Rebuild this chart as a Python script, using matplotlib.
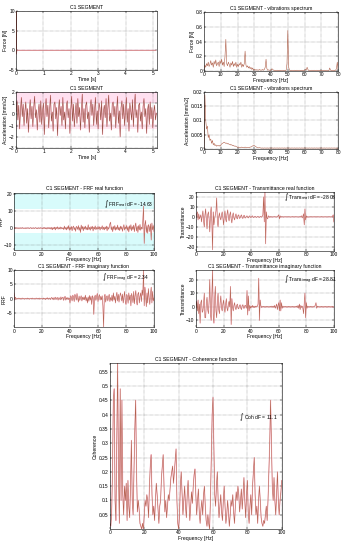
import numpy as np
import matplotlib
matplotlib.use("Agg")
import matplotlib.pyplot as plt
from matplotlib.ticker import FormatStrFormatter, FuncFormatter

plt.rcParams['font.family'] = ['Liberation Sans', 'DejaVu Sans']
plt.rcParams['font.size'] = 3.6

# ---------------- data ----------------
force_t = [0.0, 0.004, 0.012, 0.03, 5.1]
force_v = [0.0, 10.0, -1.0, 0.0, 0.0]

force_spec = [0.02, 0.08, 0.05, 0.10, 0.07, 0.12, 0.06, 0.09, 0.14, 0.08,
              0.11, 0.05, 0.13, 0.09, 0.15, 0.07, 0.10, 0.12, 0.06, 0.14,
              0.10, 0.16, 0.08, 0.12, 0.06, 0.20, 0.43, 0.10, 0.07, 0.12,
              0.09, 0.05, 0.11, 0.08, 0.13, 0.06, 0.10, 0.07, 0.12, 0.05,
              0.09, 0.06, 0.10, 0.08, 0.12, 0.05, 0.09, 0.06, 0.10, 0.27,
              0.08, 0.05, 0.07, 0.04, 0.06, 0.03, 0.05, 0.02, 0.04, 0.01,
              0.02, 0.01, 0.02, 0.01, 0.015, 0.01, 0.02, 0.01, 0.015, 0.01,
              0.02, 0.01, 0.02, 0.05, 0.16, 0.03, 0.01, 0.015, 0.01, 0.01,
              0.01, 0.03, 0.02, 0.01, 0.01, 0.005, 0.01, 0.005, 0.01, 0.005,
              0.01, 0.005, 0.01, 0.005, 0.01, 0.005, 0.01, 0.005, 0.01, 0.10,
              0.55, 0.05, 0.01, 0.005, 0.01, 0.005, 0.01, 0.005, 0.01, 0.005,
              0.01, 0.005, 0.01, 0.005, 0.01, 0.005, 0.01, 0.005, 0.01, 0.005,
              0.01, 0.02, 0.01, 0.05, 0.02, 0.005, 0.01, 0.005, 0.01, 0.005,
              0.01, 0.005, 0.01, 0.005, 0.01, 0.005, 0.01, 0.005, 0.01, 0.005,
              0.01, 0.005, 0.01, 0.005, 0.01, 0.005, 0.01, 0.005, 0.01, 0.005,
              0.04, 0.01, 0.005, 0.01, 0.005, 0.01, 0.005, 0.01, 0.03, 0.12,
              0.02]

accel = [0.2, 1.2, -0.5, 0.8, -1.3, 0.4, 1.5, -0.2, 0.9, -1.0, 0.3, 1.1, -0.8, 0.5, -1.6, 0.2, 1.3, -0.4, 0.7, -1.1,
         0.6, 1.6, -0.3, 0.4, -1.4, 0.1, 0.9, -0.7, 1.2, -0.9, 0.3, 1.0, -1.8, 0.5, 1.4, -0.2, 0.8, -1.2, 0.4, 1.7,
         -0.6, 0.2, -1.5, 0.9, 1.1, -0.4, 0.6, -1.9, 0.3, 1.3, -0.1, 0.7, -1.0, 1.5, -0.5, 0.2, -1.3, 0.8, 1.2, -0.3,
         0.5, -1.7, 0.4, 1.6, -0.6, 0.9, -1.1, 0.1, 1.0, -0.8, 1.4, -0.2, 0.6, -1.4, 0.3, 1.8, -0.7, 0.5, -1.2, 0.8,
         1.1, -0.4, 0.2, -1.6, 0.7, 1.3, -0.1, 0.9, -1.0, 0.4, 1.5, -0.9, 0.3, -1.3, 1.0, 0.6, -0.5, 1.2, -1.8, 0.2,
         0.8, -0.3, 1.4, -1.1, 0.5, 1.7, -0.6, 0.1, -1.4, 0.9, 1.1, -0.2, 0.7, -1.2, 0.4, 1.6, -0.8, 0.3, -2.0, 0.6,
         1.2, -0.4, 0.9, -1.0, 0.2, 1.5, -0.7, 0.5, -1.5, 1.0, 0.3, -0.5, 1.3, -1.1, 0.6, 1.8, -0.3, 0.4, -1.6, 0.8,
         1.0, -0.6, 0.2, -1.3, 0.7, 1.4, -0.2, 0.5, -1.7, 0.3, 0.9, -0.9, 1.1, -0.4, 0.6, -1.2, 0.2, 0.8, -0.5, 0.1]

accel_spec = [0.0, 0.019, 0.010, 0.007, 0.008, 0.004, 0.005, 0.003, 0.0035, 0.002,
              0.003, 0.0015, 0.002, 0.0012, 0.0015, 0.001, 0.0012, 0.0011, 0.0013, 0.001,
              0.0014, 0.0018, 0.002, 0.0022, 0.0024, 0.0022, 0.002, 0.0021, 0.0018, 0.0019,
              0.0016, 0.0017, 0.0014, 0.0015, 0.0012, 0.0013, 0.001, 0.0011, 0.0009, 0.0008,
              0.0006, 0.0007, 0.0005, 0.0006, 0.0005, 0.0007, 0.0005, 0.0006, 0.0005, 0.0007,
              0.0005, 0.0006, 0.0005, 0.0006, 0.0005, 0.0007, 0.0007, 0.0009, 0.0011, 0.0012,
              0.0012, 0.001, 0.0008, 0.0006, 0.0005, 0.0004, 0.0005, 0.0004, 0.0004, 0.0003,
              0.0004, 0.0003, 0.0004, 0.0003, 0.0004, 0.0003, 0.0004, 0.0003, 0.0004, 0.0003,
              0.0004, 0.0003, 0.0004, 0.0003, 0.0004, 0.0003, 0.0004, 0.0003, 0.0004, 0.0003,
              0.0004, 0.0003, 0.0004, 0.0003, 0.0004, 0.0003, 0.0004, 0.0003, 0.0004, 0.0003,
              0.0004, 0.0003, 0.0004, 0.0003, 0.0004, 0.0003, 0.0004, 0.0003, 0.0004, 0.0003,
              0.0004, 0.0003, 0.0004, 0.0003, 0.0004, 0.0003, 0.0004, 0.0003, 0.0004, 0.0003,
              0.0004, 0.0003, 0.0004, 0.0003, 0.0004, 0.0003, 0.0004, 0.0003, 0.0004, 0.0003,
              0.0004, 0.0003, 0.0004, 0.0003, 0.0004, 0.0003, 0.0004, 0.0003, 0.0004, 0.0003,
              0.0004, 0.0003, 0.0004, 0.0003, 0.0004, 0.0003, 0.0004, 0.0003, 0.0004, 0.0003,
              0.0004, 0.0003, 0.0004, 0.0003, 0.0004, 0.0003, 0.0004, 0.0003, 0.0004, 0.0003,
              0.0003]

frf_real = [0.5, -0.3, 0.2, -0.2, 0.3, -0.1, 0.2, -0.3, 0.1, 0.2,
            -0.2, 0.1, 0.3, -0.2, 0.1, -0.1, 0.2, -0.3, 0.1, 0.2,
            -0.1, 0.2, -0.2, 0.1, 0.3, -0.2, 0.1, -0.1, 0.2, -0.2,
            0.1, 0.3, -0.2, 0.1, -0.3, 0.2, 0.1, -0.2, 0.3, -0.1,
            0.2, -0.4, 0.3, -0.2, 0.4, -0.3, 0.2, -0.5, 0.3, -0.2,
            0.4, -0.3, 0.2, -0.6, 0.5, -0.9, 0.3, -0.4, 0.6, -1.0,
            0.5, -0.3, 0.8, -0.6, 0.3, -0.4, 0.7, -0.5, 0.4, -0.3,
            0.2, -0.8, 1.2, -0.6, 0.4, -1.0, 0.8, -0.5, 1.5, -1.2,
            0.6, -0.8, 1.0, -1.5, 0.5, 1.2, -0.9, 0.4, -1.8, 1.0,
            0.6, -0.7, 1.5, -1.2, 0.4, -2.5, 1.8, -0.6, 1.0, -1.5,
            0.8, -0.5, 1.2, -0.9, 0.4, -1.0, 2.0, -0.8, 0.5, -1.2,
            0.9, -0.4, 1.1, -1.6, 0.6, -0.5, 1.3, -0.9, 0.4, -0.6,
            1.0, -0.5, 0.8, -1.1, 0.5, -0.3, 1.4, -0.8, 0.6, -1.0,
            0.7, -0.4, 1.2, -1.5, 0.8, -0.6, 0.5, 2.5, 3.5, -1.0,
            0.8, -2.0, 1.0, -0.7, 1.5, -1.2, 0.6, -0.8, 1.8, -1.0,
            0.5, -1.4, 1.2, -0.6, 0.9, -1.8, 0.4, 2.0, -1.1, 0.7,
            -0.5, 1.6, -1.3, 0.8, -2.2, 1.4, -0.6, 2.0, -1.5, 0.9,
            -0.8, 1.8, -2.0, 1.2, 3.0, -1.6, 1.0, -2.5, 1.5, -1.0,
            2.2, -1.2, 0.6, -0.5, 4.0, 13.0, -9.0, 2.0, 4.5, -2.5,
            1.5, -3.0, 2.0, 1.0, -2.0, 2.5, -7.0, 3.0, -1.0, 1.5,
            -2.0]

frf_imag = [2.0, -0.5, 0.5, 0.1, -0.2, 0.1, -0.1, 0.2, -0.1, 0.1,
            -0.2, 0.1, 0.2, -0.1, 0.1, -0.2, 0.1, 0.0, -0.1, 0.2,
            -0.1, 0.1, -0.2, 0.1, 0.1, -0.1, 0.2, -0.1, 0.0, 0.1,
            -0.2, 0.1, 0.2, -0.1, 0.1, -0.1, 0.2, -0.2, 0.1, 0.0,
            0.1, -0.2, 0.2, -0.1, 0.1, -0.3, 0.2, -0.1, 0.3, -0.2,
            0.1, 0.2, -0.3, 0.2, 0.4, -0.2, 0.3, -0.4, 0.2, 0.5,
            -0.3, 0.2, 0.4, -0.5, 0.3, 0.2, -0.4, 0.6, -0.2, 0.3,
            0.5, -0.6, 0.4, 0.8, -0.5, 0.3, -0.2, 0.4, -0.3, 0.2,
            -1.5, 1.0, 0.5, -0.8, 1.2, 0.6, -1.0, 1.5, 0.8, -0.5,
            1.8, 0.4, -1.2, 0.9, -0.6, 0.3, 1.0, -0.8, 0.5, -0.3,
            0.6, -0.4, 1.2, -0.8, 0.4, -1.5, 0.6, -0.9, 1.1, -0.5,
            0.8, -2.0, 1.0, 0.4, -5.5, 0.5, 1.2, -0.6, 0.8, 1.8,
            -1.0, 0.6, 1.4, -0.5, 0.8, -0.4, 1.0, -2.5, -10.0, 0.8,
            1.5, -1.2, 0.6, 1.0, -0.8, 0.5, 1.5, -1.0, 0.4, -0.6,
            1.2, -0.9, 2.0, -0.5, 0.8, -1.5, 1.0, 2.2, -0.8, 1.5,
            -1.2, 0.6, 2.0, 1.0, -0.8, 1.6, -1.5, 0.5, 2.5, -1.0,
            -2.0, 1.5, 0.8, -1.6, 2.0, -0.5, 1.2, -2.5, 1.8, 0.6,
            -1.4, 2.5, -1.8, 1.0, 2.8, -0.8, -2.2, 1.6, 2.2, -1.5,
            0.8, 2.0, -1.0, 3.0, 1.2, 10.0, -2.5, 4.0, 1.5, -2.8,
            2.0, -1.5, 3.5, 0.5, -2.0, 1.5, 4.0, -1.5, 2.5, -0.8,
            0.3]

trans_real = [0.0, 3.0, 5.0, -3.0, 3.0, -2.0, 0.0, 2.0, -5.0, 1.0,
              6.0, -4.0, -10.0, 2.0, 8.0, -3.0, -12.0, 2.0, 5.0, -2.0,
              -15.0, 3.0, 10.0, -5.0, -33.0, 5.0, -8.0, -2.0, 2.0, 6.0,
              19.0, -5.0, -10.0, 0.0, 4.0, -1.0, -3.0, 2.0, 5.0, -1.0,
              -8.0, 1.0, 6.0, -2.0, -5.0, 3.0, 7.0, -1.0, -4.0, 2.0,
              5.0, -2.0, -6.0, 1.0, 4.0, -1.0, -3.0, 1.0, 3.0, -1.0,
              -2.0, 1.5, 2.0, -1.5, -1.0, 1.0, 2.0, -1.0, -1.5, 1.0,
              1.5, -1.0, -1.0, 0.5, 1.0, -0.5, -1.0, 0.5, 1.0, -0.5,
              -0.5, 0.5, 1.0, -0.5, -0.5, 0.3, 0.5, -0.3, -0.5, 0.3,
              0.5, -0.3, -0.5, 0.3, 0.3, -0.3, 0.5, 2.0, 20.0, -5.0,
              25.0, -27.0, 5.0, -1.0, -2.0, 1.0, 0.5, -0.5, 0.3, -0.3,
              0.3, -0.3, 0.2, -0.2, 0.3, -0.2, 0.2, -0.3, 0.2, 1.0,
              2.0, -2.0, 1.0, -0.5, 0.3, -0.2, 0.3, -0.3, 0.2, -0.2,
              0.2, -0.2, 0.3, -0.2, 0.2, -0.2, 0.2, -0.3, 0.2, -0.2,
              0.3, -0.2, 0.2, -0.2, 0.3, -0.2, 0.2, -0.2, 0.2, -0.3,
              0.2, -0.2, 0.5, 1.0, -1.0, 0.5, 3.0, -8.0, 8.0, -3.0,
              1.0, -0.5, 0.3, -0.3, 0.2, -0.2, 0.2, -0.2, 0.3, -0.2,
              0.2, -0.2, 0.2, -0.2, 0.3, -0.2, 0.2, -0.2, 0.2, -0.2,
              0.2, -0.2, 0.3, -0.2, 0.2, -0.2, 0.2, -0.2, 0.2, -0.2,
              0.2, -0.2, 0.2, -0.2, 0.3, -0.2, 0.2, -0.2, 0.5, 2.0,
              -5.0]

trans_imag = [0.0, 4.0, -3.0, 5.0, -5.0, 2.0, -12.0, 3.0, 5.0, -4.0,
              -3.0, 2.0, 10.0, -8.0, -8.0, 3.0, 7.0, -2.0, -5.0, 4.0,
              20.0, -5.0, -10.0, 8.0, 27.0, -6.0, -12.0, 5.0, 15.0, -3.0,
              -8.0, 4.0, 10.0, -2.0, -5.0, 3.0, 8.0, -1.0, -3.0, 2.0,
              5.0, -1.0, -4.0, 2.0, 6.0, -1.0, -3.0, 2.0, 4.0, 0.0,
              15.0, -13.0, 6.0, 0.0, -3.0, 1.0, 3.0, -1.0, -2.0, 1.0,
              2.0, -1.0, -1.5, 1.0, 1.5, -1.0, -2.0, 1.0, 1.5, -1.0,
              -1.0, 1.0, 1.0, -1.0, 12.0, -6.0, 8.0, -3.0, 1.0, -1.0,
              0.5, -0.5, 1.0, -0.5, 0.5, -0.5, 0.5, -0.3, 0.5, 0.3,
              2.0, 21.0, -10.0, 5.0, 1.0, -0.5, 0.3, -0.3, 0.3, -0.3,
              0.3, -0.3, 0.3, -0.3, 0.3, -0.3, 0.3, -0.3, 0.3, -0.3,
              0.5, -0.3, 0.5, -0.5, 1.0, -1.0, 0.5, 2.0, -2.0, 1.0,
              3.0, -3.0, 5.0, -3.0, 3.0, -1.0, 0.5, -0.3, 0.3, -0.3,
              0.3, -0.3, 0.3, -0.3, 0.3, -0.3, 0.3, -0.3, 0.3, -0.3,
              0.3, -0.3, 0.3, -0.3, 0.3, -0.3, 0.5, -0.5, 1.0, -1.0,
              2.0, -2.0, 1.0, -0.5, 0.5, -1.0, -5.0, 3.0, 10.0, -8.0,
              3.0, -1.0, 0.5, -0.3, 0.3, -0.3, 0.3, -0.3, 0.3, -0.3,
              0.3, -0.3, 0.5, 1.0, 3.0, -1.0, 0.5, -0.3, 0.3, -0.3,
              0.3, -0.3, 0.3, -0.3, 0.3, -0.3, 0.3, -0.3, 0.3, -0.3,
              0.3, -0.3, 0.3, -0.3, 0.3, -0.3, 0.3, -0.3, 0.3, -0.3,
              0.0]

coherence = [0.02, 0.01, 0.05, 0.20, 0.45, 0.49, 0.10, 0.03, 0.30, 0.58,
             0.20, 0.02, 0.49, 0.10, 0.45, 0.12, 0.05, 0.15, 0.10, 0.16,
             0.03, 0.17, 0.08, 0.04, 0.15, 0.31, 0.10, 0.05, 0.20, 0.35,
             0.45, 0.20, 0.06, 0.10, 0.07, 0.02, 0.01, 0.00, 0.02, 0.00,
             0.05, 0.10, 0.08, 0.12, 0.10, 0.04, 0.15, 0.22, 0.26, 0.12,
             0.05, 0.08, 0.03, 0.10, 0.16, 0.12, 0.07, 0.02, 0.08, 0.10,
             0.18, 0.22, 0.26, 0.15, 0.06, 0.10, 0.04, 0.08, 0.12, 0.10,
             0.14, 0.18, 0.20, 0.22, 0.16, 0.20, 0.24, 0.28, 0.10, 0.02,
             0.00, 0.05, 0.15, 0.20, 0.12, 0.05, 0.10, 0.15, 0.08, 0.04,
             0.12, 0.17, 0.10, 0.03, 0.08, 0.13, 0.09, 0.15, 0.19, 0.21,
             0.12, 0.05, 0.10, 0.14, 0.06, 0.02, 0.07, 0.10, 0.05, 0.12,
             0.15, 0.08, 0.03, 0.01, 0.05, 0.02, 0.00, 0.10, 0.25, 0.40,
             0.46, 0.30, 0.12, 0.08, 0.15, 0.20, 0.10, 0.04, 0.08, 0.12,
             0.06, 0.03, 0.10, 0.15, 0.08, 0.02, 0.05, 0.10, 0.06, 0.01,
             0.05, 0.10, 0.08, 0.12, 0.06, 0.02, 0.08, 0.13, 0.10, 0.15,
             0.12, 0.06, 0.10, 0.14, 0.07, 0.12, 0.18, 0.10, 0.04, 0.12,
             0.17, 0.06, 0.02, 0.08, 0.12, 0.05, 0.15, 0.20, 0.25, 0.12,
             0.05, 0.08, 0.02, 0.10, 0.15, 0.10, 0.04, 0.02, 0.01, 0.03,
             0.02, 0.05, 0.08, 0.03, 0.10, 0.20, 0.30, 0.45, 0.30, 0.15,
             0.10, 0.18, 0.10, 0.05, 0.12, 0.20, 0.10, 0.05, 0.10, 0.13,
             0.17]

titles = ["C1 SEGMENT", "C1 SEGMENT - vibrations spectrum",
          "C1 SEGMENT", "C1 SEGMENT - vibrations spectrum",
          "C1 SEGMENT - FRF real function", "C1 SEGMENT - Transmittance real function",
          "C1 SEGMENT - FRF imaginary function", "C1 SEGMENT - Transmittance imaginary function",
          "C1 SEGMENT - Coherence function"]

LINE = '#b0604a'
PINK = '#ff9fbf'

fig = plt.figure(figsize=(3.5, 5.5), dpi=100)

def style(ax, title, xlabel, ylabel):
    ax.set_title(title, fontsize=3.7, pad=1.5)
    ax.set_xlabel(xlabel, fontsize=3.7, labelpad=0.5)
    ax.set_ylabel(ylabel, fontsize=3.7, labelpad=0.5)
    ax.grid(True, linestyle=(0, (1, 1.5)), color='#555555', linewidth=0.35)
    ax.tick_params(direction='in', length=1.2, width=0.3, labelsize=3.5, pad=1,
                   top=True, right=True)
    for s in ax.spines.values():
        s.set_linewidth(0.4)

gfmt = FuncFormatter(lambda v, p: ('%g' % round(v, 4)))

# Row 1 left: force vs time
ax = fig.add_axes([0.046, 0.873, 0.403, 0.107])
ax.plot(force_t, force_v, color=PINK, lw=0.6)
ax.plot(force_t, force_v, color=LINE, lw=0.3)
ax.set_xlim(0, 5.15); ax.set_ylim(-5, 10)
ax.set_xticks([0, 1, 2, 3, 4, 5]); ax.set_yticks([-5, 0, 5, 10])
style(ax, titles[0], "Time [s]", "Force [N]")

# Row 1 right: force spectrum
ax = fig.add_axes([0.583, 0.871, 0.383, 0.107])
f1 = np.arange(len(force_spec)) * 0.5
ax.plot(f1, force_spec, color=LINE, lw=0.4)
ax.set_xlim(0, 80); ax.set_ylim(0, 0.8)
ax.set_xticks(range(0, 81, 10)); ax.set_yticks([0, 0.2, 0.4, 0.6, 0.8])
ax.yaxis.set_major_formatter(gfmt)
style(ax, titles[1], "Frequency [Hz]", "Force [N]")

# Row 2 left: acceleration vs time
ax = fig.add_axes([0.046, 0.731, 0.403, 0.102])
t2 = np.linspace(0, 5.12, len(accel))
ax.axhspan(1.0, 2.0, color='#ffe0f0', lw=0)
ax.axhspan(-1.3, -0.9, color='#ffe8f2', lw=0)
ax.plot(t2, accel, color=PINK, lw=0.8, alpha=0.7)
ax.plot(t2, accel, color='#8c4a36', lw=0.35)
ax.set_xlim(0, 5.15); ax.set_ylim(-3, 2)
ax.set_xticks([0, 1, 2, 3, 4, 5]); ax.set_yticks([-3, -2, -1, 0, 1, 2])
style(ax, titles[2], "Time [s]", "Acceleration [mm/s2]")

# Row 2 right: acceleration spectrum
ax = fig.add_axes([0.583, 0.729, 0.383, 0.104])
f2 = np.arange(len(accel_spec)) * 0.5
ax.plot(f2, accel_spec, color=LINE, lw=0.4)
ax.set_xlim(0, 80); ax.set_ylim(0, 0.02)
ax.set_xticks(range(0, 81, 10)); ax.set_yticks([0, 0.005, 0.01, 0.015, 0.02])
ax.yaxis.set_major_formatter(gfmt)
style(ax, titles[3], "Frequency [Hz]", "Acceleration [mm/s2]")

def freq_panel(rect, data, ylim, yticks, title, ylabel, ann, ann_xy, fmt=None):
    ax = fig.add_axes(rect)
    f = np.arange(len(data)) * 0.5
    ax.plot(f, data, color=PINK, lw=0.7, alpha=0.6)
    ax.plot(f, data, color=LINE, lw=0.35)
    ax.set_xlim(0, 100); ax.set_ylim(*ylim)
    ax.set_xticks(range(0, 101, 20)); ax.set_yticks(yticks)
    if fmt is not None:
        ax.yaxis.set_major_formatter(fmt)
    ax.text(ann_xy[0], ann_xy[1], ann, fontsize=3.5, ha='left', va='center')
    style(ax, title, "Frequency [Hz]", ylabel)
    return ax

ax = freq_panel([0.040, 0.545, 0.400, 0.105], frf_real, (-13, 21), [-10, 0, 10, 20],
                titles[4], "FRF", r"$\int$ FRF$_{real}$ dF = -14.63", (64, 14))
ax.axhspan(11, 21, color='#d8fbfb', lw=0, zorder=0)
ax.axhspan(-13, -3, color='#d8fbfb', lw=0, zorder=0)

freq_panel([0.560, 0.544, 0.394, 0.107], trans_real, (-34, 25), [-30, -20, -10, 0, 10, 20],
           titles[5], "Transmittance", r"$\int$ Trans$_{real}$ dF = -28.08", (64, 20))

freq_panel([0.040, 0.405, 0.400, 0.104], frf_imag, (-10, 10), [-5, 0, 5, 10],
           titles[6], "FRF", r"$\int$ FRF$_{imag}$ dF = 2.34", (63, 7.5))

freq_panel([0.560, 0.405, 0.394, 0.104], trans_imag, (-15, 27), [-10, 0, 10, 20],
           titles[7], "Transmittance", r"$\int$ Trans$_{imag}$ dF = 28.81", (64, 20))

# Coherence
ax = fig.add_axes([0.314, 0.038, 0.491, 0.302])
fc = np.arange(len(coherence)) * 0.5
ax.plot(fc, coherence, color=PINK, lw=0.8, alpha=0.6)
ax.plot(fc, coherence, color=LINE, lw=0.4)
ax.set_xlim(0, 100); ax.set_ylim(0, 0.58)
ax.set_xticks(range(0, 101, 20))
ax.set_yticks([0.05, 0.1, 0.15, 0.2, 0.25, 0.3, 0.35, 0.4, 0.45, 0.5, 0.55])
ax.yaxis.set_major_formatter(gfmt)
ax.text(75, 0.39, r"$\int$ Coh dF = 11.1", fontsize=3.6, ha='left', va='center')
style(ax, titles[8], "Frequency [Hz]", "Coherence")

fig.savefig("out.png", dpi=100)
